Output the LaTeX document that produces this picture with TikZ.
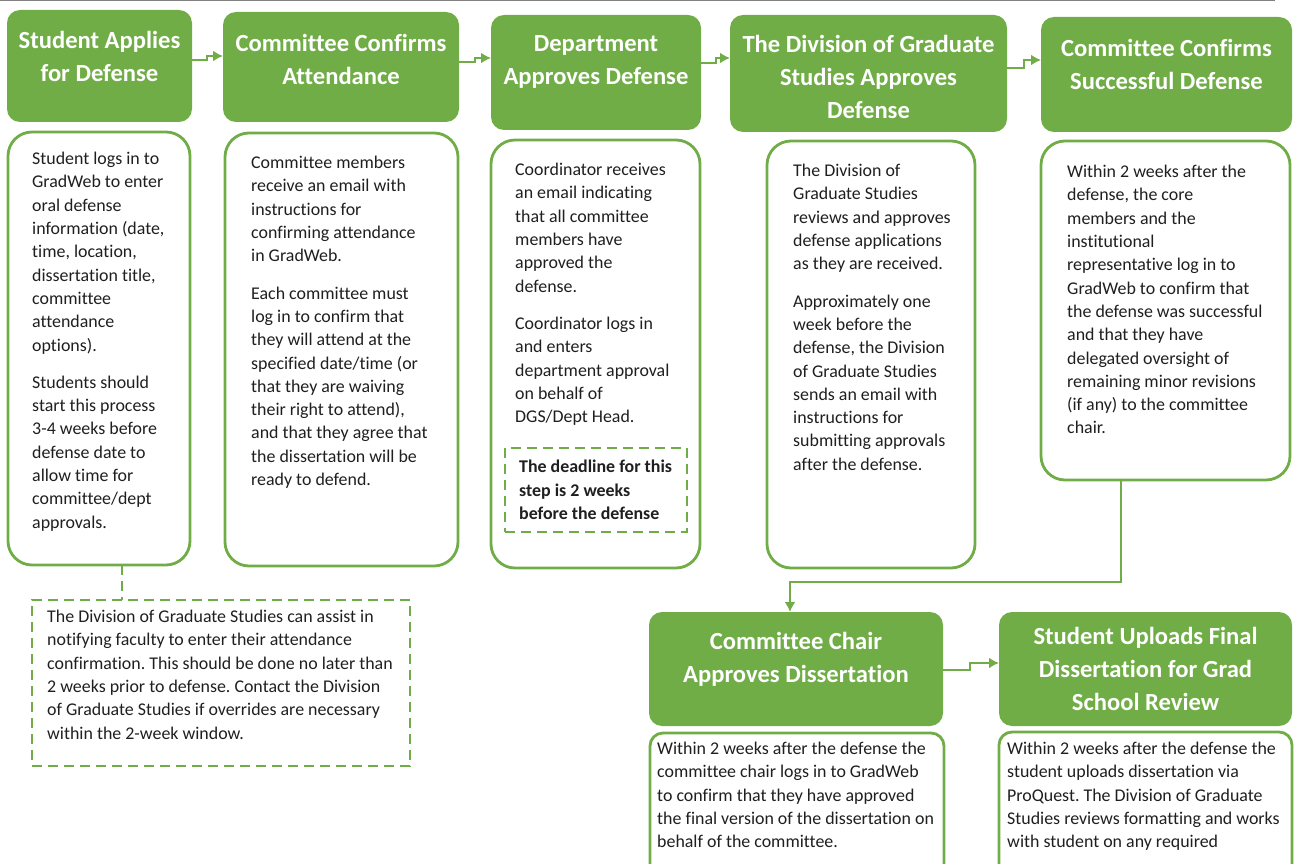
\documentclass[tikz,border=0pt]{standalone}
\usepackage{fontspec}
\setmainfont{Carlito}[Ligatures=NoCommon]
\frenchspacing
\usetikzlibrary{arrows.meta}
\definecolor{stepgreen}{HTML}{70AD47}
\definecolor{inktext}{HTML}{1F1F1F}
\tikzset{stage/.style={
  rectangle,
  fill=stepgreen,rounded corners=13pt,
  inner sep=0pt,outer sep=0pt}}
\tikzset{stagetext/.style={
  text=white,align=center,inner sep=0pt,
  font=\fontsize{24.6}{33}\selectfont\bfseries}}
\tikzset{detail/.style={
  rectangle,
  draw=stepgreen,line width=2.8pt,fill=white,
  inner sep=0pt,outer sep=0pt}}
\tikzset{detailtext/.style={
  text=inktext,align=left,inner sep=0pt,anchor=north west,
  font=\fontsize{17.9}{23.3}\selectfont}}
\tikzset{note/.style={
  rectangle,
  draw=stepgreen,line width=2.8pt,dash pattern=on 10pt off 6pt,
  inner sep=0pt,outer sep=0pt}}
\tikzset{flow/.style={draw=stepgreen,line width=2.8pt,-{Latex[length=10pt,width=11pt]}}}
\tikzset{notelink/.style={draw=stepgreen,line width=2.8pt,dash pattern=on 10pt off 6pt}}

\begin{document}
\begin{tikzpicture}[x=1pt,y=-1pt]
  \useasboundingbox (0,0) rectangle (1294,864);
  \draw[black!50,line width=1.5pt] (0,0.75) -- (1275,0.75);
  % green step headers
  \foreach \n/\x/\y/\w/\h in {
      h1/99.5/66/185/112, h2/341/67/236/110, h3/596/72.5/210/115,
      h4/868.5/73.5/277/117, h5/1166.5/74.5/251/115,
      h6/796/669/294/114, h7/1145.5/669/293/114}
    \node[stage,minimum width=\w pt,minimum height=\h pt] (\n) at (\x,\y) {};
  \node[stagetext] (h1-label) at ([yshift=9.5pt]h1.center) {Student Applies\\for Defense};
  \node[stagetext] (h2-label) at ([yshift=7.5pt]h2.center) {Committee Confirms\\Attendance};
  \node[stagetext] (h3-label) at ([yshift=10.5pt]h3.center) {Department\\Approves Defense};
  \node[stagetext] (h4-label) at ([yshift=-3pt]h4.center) {The Division of Graduate\\Studies Approves\\Defense};
  \node[stagetext] (h5-label) at ([yshift=10pt]h5.center) {Committee Confirms\\Successful Defense};
  \node[stagetext] (h6-label) at ([yshift=9.5pt]h6.center) {Committee Chair\\Approves Dissertation};
  \node[stagetext] (h7-label) at (h7.center) {Student Uploads Final\\Dissertation for Grad\\School Review};
  % detail boxes
  \foreach \n/\x/\y/\w/\h/\r in {
      b1/99/348.5/182/433/24, b2/341.5/349.5/233/433/24,
      b3/595.5/354/209/428/24, b4/871/354.5/208/427/24,
      b5/1165.5/310.5/249/339/24,
      b6/797/806.5/294/147/13, b7/1145.5/806/293/148/13}
    \node[detail,minimum width=\w pt,minimum height=\h pt,rounded corners=\r pt] (\n) at (\x,\y) {};
  \node[detailtext] (t1) at ([shift={(24,20)}]b1.north west)
    {Student logs in to\\GradWeb to enter\\oral defense\\information (date,\\time, location,\\dissertation title,\\committee\\attendance\\options).\\[14pt]
     Students should\\start this process\\3-4 weeks before\\defense date to\\allow time for\\committee/dept\\approvals.};
  \node[detailtext] (t2) at ([shift={(26,23)}]b2.north west)
    {Committee members\\receive an email with\\instructions for\\confirming attendance\\in GradWeb.\\[14pt]
     Each committee must\\log in to confirm that\\they will attend at the\\specified date/time (or\\that they are waiving\\their right to attend),\\and that they agree that\\the dissertation will be\\ready to defend.};
  \node[detailtext] (t3) at ([shift={(24,23)}]b3.north west)
    {Coordinator receives\\an email indicating\\that all committee\\members have\\approved the\\defense.\\[14pt]
     Coordinator logs in\\and enters\\department approval\\on behalf of\\DGS/Dept Head.};
  \node[detailtext] (t4) at ([shift={(26,23)}]b4.north west)
    {The Division of\\Graduate Studies\\reviews and approves\\defense applications\\as they are received.\\[14pt]
     Approximately one\\week before the\\defense, the Division\\of Graduate Studies\\sends an email with\\instructions for\\submitting approvals\\after the defense.};
  \node[detailtext] (t5) at ([shift={(26,24)}]b5.north west)
    {Within 2 weeks after the\\defense, the core\\members and the\\institutional\\representative log in to\\GradWeb to confirm that\\the defense was successful\\and that they have\\delegated oversight of\\remaining minor revisions\\(if any) to the committee\\chair.};
  \node[detailtext] (t6) at ([shift={(7,9)}]b6.north west)
    {Within 2 weeks after the defense the\\committee chair logs in to GradWeb\\to confirm that they have approved\\the final version of the dissertation on\\behalf of the committee.};
  \node[detailtext] (t7) at ([shift={(8,10)}]b7.north west)
    {Within 2 weeks after the defense the\\student uploads dissertation via\\ProQuest. The Division of Graduate\\Studies reviews formatting and works\\with student on any required};
  % dashed notes
  \node[note,minimum width=378pt,minimum height=166pt] (n1) at (221,683) {};
  \node[detailtext] (n1-text) at ([shift={(15,10)}]n1.north west)
    {The Division of Graduate Studies can assist in\\notifying faculty to enter their attendance\\confirmation. This should be done no later than\\2 weeks prior to defense. Contact the Division\\of Graduate Studies if overrides are necessary\\within the 2-week window.};
  \node[note,minimum width=182pt,minimum height=84pt] (n2) at (596,490) {};
  \node[detailtext,font=\fontsize{17.9}{23.3}\selectfont\bfseries] (n2-text) at ([shift={(14,12)}]n2.north west)
    {The deadline for this\\step is 2 weeks\\before the defense};
  % connectors
  \draw[flow] ([yshift=6pt]h1.east) -- ++(15,0) |- ([yshift=11pt]h2.west);
  \draw[flow] ([yshift=5pt]h2.east) -- ++(16,0) |- ([yshift=14.5pt]h3.west);
  \draw[flow] ([yshift=9.5pt]h3.east) -- ++(15,0) |- ([yshift=15.5pt]h4.west);
  \draw[flow] ([yshift=5.5pt]h4.east) -- ++(17,0) |- ([yshift=14.5pt]h5.west);
  \draw[flow] ([yshift=-1pt]h6.east) -- ++(27,0) |- ([yshift=6pt]h7.west);
  \draw[flow] ([xshift=-44.5pt]b5.south) -- ++(0,102) -| ([xshift=-6pt]h6.north);
  \draw[notelink] ([xshift=23pt]b1.south) -- ([xshift=23pt]b1.south |- n1.north);
\end{tikzpicture}
\end{document}
